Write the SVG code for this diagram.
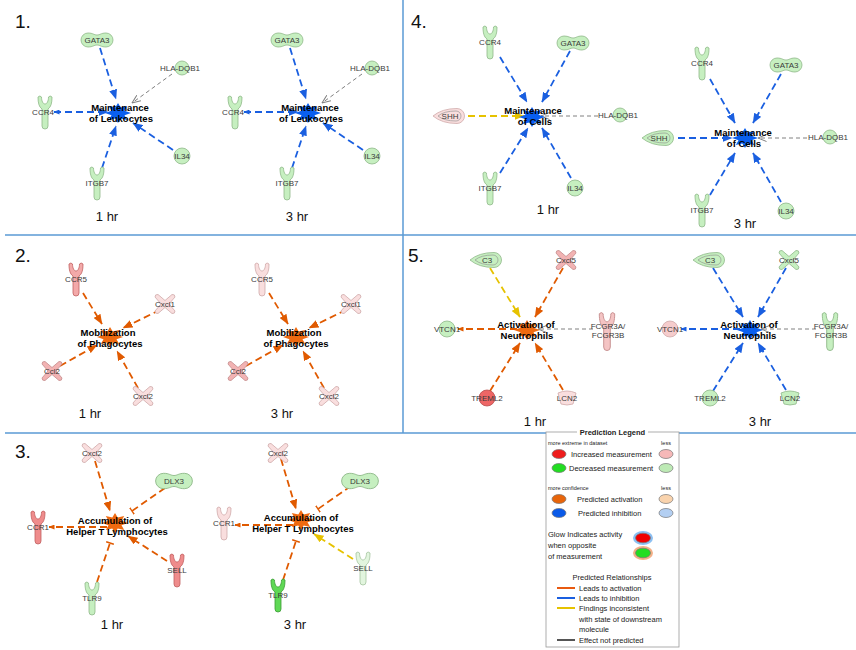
<svg xmlns="http://www.w3.org/2000/svg" xmlns:xlink="http://www.w3.org/1999/xlink" width="856" height="650" viewBox="0 0 856 650">
<style>
text{font-family:"Liberation Sans",Arial,sans-serif}
.lbl{font-size:8px;fill:#3a3a3a;text-anchor:middle}
.fn{font-size:9.5px;font-weight:bold;fill:#000;text-anchor:middle}
.hr{font-size:13px;fill:#111;text-anchor:middle}
.num{font-size:19px;fill:#111}
.sep{stroke:#5b9bd5;stroke-width:1.5;fill:none}
.e{fill:none;stroke-width:1.8;stroke-dasharray:7 4}
.eb{stroke:#1a5fe0}.eo{stroke:#e05a00}.ey{stroke:#e6c200}
.eg{fill:none;stroke:#808080;stroke-width:1;stroke-dasharray:4 3}
.lg{fill:#c6efc0;stroke:#8fb889;stroke-width:0.8}
.g3{fill:#5fd855;stroke:#3a9a33;stroke-width:0.8}
.vg{fill:#e2f5de;stroke:#a5c4a0;stroke-width:0.8}
.pk{fill:#f2b3b3;stroke:#c48b8b;stroke-width:0.8}
.pp{fill:#f9dede;stroke:#cfaaaa;stroke-width:0.8}
.rd{fill:#ef8c8c;stroke:#c06060;stroke-width:0.8}
.rr{fill:#ee6666;stroke:#b84c4c;stroke-width:0.8}
.cb{fill:#0a5ff0}.co{fill:#ef6a10}
.leg{font-size:7.5px;fill:#222}
.legs{font-size:5.5px;fill:#222}
.le{stroke:#777;stroke-width:0.7}
</style>
<defs>
<path id="rec" d="M-3,14 Q-3,17 0,17 Q3,17 3,14 L3,-3 C6,-5 7,-9 7,-15 Q5,-17 3.5,-15 C3.5,-11 2,-8 0,-8 C-2,-8 -3.5,-11 -3.5,-15 Q-5,-17 -7,-15 C-7,-9 -6,-5 -3,-3 Z"/>
<path id="pea" d="M-9,-7 C-4,-7 -3,-5 0,-5 C3,-5 4,-7 9,-7 A7,7 0 0 1 9,7 C4,7 3,5 0,5 C-3,5 -4,7 -9,7 A7,7 0 0 1 -9,-7 Z"/>
<path id="cyt" d="M-10,-7 Q-10,-10 -7,-9.5 L0,-3.5 L7,-9.5 Q10,-10 10,-7 L4,0 L10,7 Q10,10 7,9.5 L0,3.5 L-7,9.5 Q-10,10 -10,7 L-4,0 Z"/>
<path id="lens" d="M-17,0 Q-8,-7.5 7,-7.5 A7.5,7.5 0 0 1 7,7.5 Q-8,7.5 -17,0 Z"/>
<path id="lensin" d="M-12,0 Q-6,-5 6,-5 A5,5 0 0 1 6,5 Q-6,5 -12,0 Z" fill="none" stroke="#8a8a8a" stroke-width="0.6"/>
<path id="cup" d="M-9,-5 Q0,-9 9,-5 L6,6 Q0,8 -6,6 Z"/>
<polygon id="star" points="13,0 6.5,2.3 9.2,7.1 2.7,5.5 0,10 -2.7,5.5 -9.2,7.1 -6.5,2.3 -13,0 -6.5,-2.3 -9.2,-7.1 -2.7,-5.5 0,-10 2.7,-5.5 9.2,-7.1 6.5,-2.3"/>
<marker id="aB" viewBox="0 0 10 8" refX="9.5" refY="4" markerWidth="10" markerHeight="8" markerUnits="userSpaceOnUse" orient="auto"><path d="M0,0L10,4L0,8z" fill="#1a5fe0"/></marker>
<marker id="aO" viewBox="0 0 10 8" refX="9.5" refY="4" markerWidth="10" markerHeight="8" markerUnits="userSpaceOnUse" orient="auto"><path d="M0,0L10,4L0,8z" fill="#e05a00"/></marker>
<marker id="aY" viewBox="0 0 10 8" refX="9.5" refY="4" markerWidth="10" markerHeight="8" markerUnits="userSpaceOnUse" orient="auto"><path d="M0,0L10,4L0,8z" fill="#e6c200"/></marker>
<marker id="aG" viewBox="0 0 9 8" refX="8.5" refY="4" markerWidth="9" markerHeight="8" markerUnits="userSpaceOnUse" orient="auto"><path d="M0,0.5L8.5,4L0,7.5" fill="none" stroke="#808080" stroke-width="1"/></marker>
<marker id="sB" viewBox="0 0 6 5" refX="5.5" refY="2.5" markerWidth="6" markerHeight="5" markerUnits="userSpaceOnUse" orient="auto-start-reverse"><path d="M0,0L6,2.5L0,5z" fill="#1a5fe0"/></marker>
<marker id="sO" viewBox="0 0 6 5" refX="5.5" refY="2.5" markerWidth="6" markerHeight="5" markerUnits="userSpaceOnUse" orient="auto"><path d="M0,0L6,2.5L0,5z" fill="#e05a00"/></marker>
<marker id="tO" viewBox="0 0 4 8" refX="2" refY="4" markerWidth="4" markerHeight="8" markerUnits="userSpaceOnUse" orient="auto"><path d="M2,0V8" stroke="#e05a00" stroke-width="1.4"/></marker>
</defs>
<rect width="856" height="650" fill="#fff"/>

<g id="dividers">
<path class="sep" d="M5,235H856M403,0V433M5,433H546M679,433H856"/>
</g>

<g id="panel-numbers">
<text class="num" x="15" y="28">1.</text>
<text class="num" x="411" y="28">4.</text>
<text class="num" x="15" y="262">2.</text>
<text class="num" x="408" y="262">5.</text>
<text class="num" x="15" y="458">3.</text>
</g>

<g id="time-labels">
<text class="hr" x="107" y="221">1 hr</text>
<text class="hr" x="297" y="221">3 hr</text>
<text class="hr" x="548" y="214">1 hr</text>
<text class="hr" x="745" y="228">3 hr</text>
<text class="hr" x="90" y="418">1 hr</text>
<text class="hr" x="282" y="418">3 hr</text>
<text class="hr" x="535" y="426">1 hr</text>
<text class="hr" x="760" y="426">3 hr</text>
<text class="hr" x="112" y="629">1 hr</text>
<text class="hr" x="295" y="629">3 hr</text>
</g>

<!-- Panel 1, 1 hr -->
<g id="p1a">
<g id="p1a-edges">
<path class="e eb" d="M100,48L116,99" marker-end="url(#aB)"/>
<path class="eg" d="M172,74L132,103" marker-end="url(#aG)"/>
<path class="e eb" d="M54,112L108,112" marker-start="url(#sB)" marker-end="url(#aB)"/>
<path class="e eb" d="M173,150L133,123" marker-end="url(#aB)"/>
<path class="e eb" d="M102,168L116,126" marker-end="url(#aB)"/>
</g>
<g id="p1a-gata3" transform="translate(97,40)"><use href="#pea" class="lg"/><text class="lbl" y="3">GATA3</text></g>
<g id="p1a-hla" transform="translate(182,68)"><circle r="7" class="lg"/><text class="lbl" x="-2" y="3">HLA-DQB1</text></g>
<g id="p1a-ccr4" transform="translate(45,112)"><use href="#rec" class="lg"/><text class="lbl" x="-2" y="3">CCR4</text></g>
<g id="p1a-il34" transform="translate(182,156)"><circle r="8" class="lg"/><text class="lbl" y="3">IL34</text></g>
<g id="p1a-itgb7" transform="translate(97,183)"><use href="#rec" class="lg"/><text class="lbl" y="3">ITGB7</text></g>
<g id="p1a-center" transform="translate(118,113)"><use href="#star" class="cb"/><text class="fn" x="2" y="-2.5">Maintenance</text><text class="fn" x="3" y="8.5">of Leukocytes</text></g>
</g>

<!-- Panel 1, 3 hr -->
<g id="p1b" transform="translate(190,0)">
<g id="p1b-edges">
<path class="e eb" d="M100,48L116,99" marker-end="url(#aB)"/>
<path class="eg" d="M172,74L132,103" marker-end="url(#aG)"/>
<path class="e eb" d="M54,112L108,112" marker-start="url(#sB)" marker-end="url(#aB)"/>
<path class="e eb" d="M173,150L133,123" marker-end="url(#aB)"/>
<path class="e eb" d="M102,168L116,126" marker-end="url(#aB)"/>
</g>
<g id="p1b-gata3" transform="translate(97,40)"><use href="#pea" class="lg"/><text class="lbl" y="3">GATA3</text></g>
<g id="p1b-hla" transform="translate(182,68)"><circle r="7" class="lg"/><text class="lbl" x="-2" y="3">HLA-DQB1</text></g>
<g id="p1b-ccr4" transform="translate(45,112)"><use href="#rec" class="lg"/><text class="lbl" x="-2" y="3">CCR4</text></g>
<g id="p1b-il34" transform="translate(182,156)"><circle r="8" class="lg"/><text class="lbl" y="3">IL34</text></g>
<g id="p1b-itgb7" transform="translate(97,183)"><use href="#rec" class="lg"/><text class="lbl" y="3">ITGB7</text></g>
<g id="p1b-center" transform="translate(118,113)"><use href="#star" class="cb"/><text class="fn" x="2" y="-2.5">Maintenance</text><text class="fn" x="3" y="8.5">of Leukocytes</text></g>
</g>

<!-- Panel 4, 1 hr -->
<g id="p4a">
<g id="p4a-edges">
<path class="e eb" d="M500,57L527,102" marker-end="url(#aB)"/>
<path class="e eb" d="M570,51L542,102" marker-end="url(#aB)"/>
<path class="e ey" d="M468,116L524,116" marker-end="url(#aY)"/>
<path class="eg" d="M598,116L541,116" marker-end="url(#aG)"/>
<path class="e eb" d="M500,173L528,128" marker-end="url(#aB)"/>
<path class="e eb" d="M571,178L542,128" marker-end="url(#aB)"/>
</g>
<g id="p4a-ccr4" transform="translate(490,42)"><use href="#rec" class="lg"/><text class="lbl" y="3">CCR4</text></g>
<g id="p4a-gata3" transform="translate(573,43)"><use href="#pea" class="lg"/><text class="lbl" y="3">GATA3</text></g>
<g id="p4a-shh" transform="translate(450,116)"><use href="#lens" class="pp"/><use href="#lensin"/><text class="lbl" y="3">SHH</text></g>
<g id="p4a-hla" transform="translate(620,115)"><circle r="7" class="lg"/><text class="lbl" x="-2" y="3">HLA-DQB1</text></g>
<g id="p4a-itgb7" transform="translate(490,188)"><use href="#rec" class="lg"/><text class="lbl" y="3">ITGB7</text></g>
<g id="p4a-il34" transform="translate(575,188)"><circle r="8" class="lg"/><text class="lbl" y="3">IL34</text></g>
<g id="p4a-center" transform="translate(532,117)"><use href="#star" class="cb"/><text class="fn" x="1" y="-3.5">Maintenance</text><text class="fn" x="3" y="8">of Cells</text></g>
</g>

<!-- Panel 4, 3 hr -->
<g id="p4b">
<g id="p4b-edges">
<path class="e eb" d="M710,79L735,123" marker-end="url(#aB)"/>
<path class="e eb" d="M781,74L753,123" marker-end="url(#aB)"/>
<path class="e eb" d="M678,138L732,138" marker-end="url(#aB)"/>
<path class="eg" d="M807,138L758,138" marker-end="url(#aG)"/>
<path class="e eb" d="M710,195L735,153" marker-end="url(#aB)"/>
<path class="e eb" d="M781,202L753,153" marker-end="url(#aB)"/>
</g>
<g id="p4b-ccr4" transform="translate(702,63)"><use href="#rec" class="lg"/><text class="lbl" y="3">CCR4</text></g>
<g id="p4b-gata3" transform="translate(786,65)"><use href="#pea" class="lg"/><text class="lbl" y="3">GATA3</text></g>
<g id="p4b-shh" transform="translate(659,138)"><use href="#lens" class="lg"/><use href="#lensin"/><text class="lbl" y="3">SHH</text></g>
<g id="p4b-hla" transform="translate(830,137)"><circle r="7" class="lg"/><text class="lbl" x="-2" y="3">HLA-DQB1</text></g>
<g id="p4b-itgb7" transform="translate(702,210)"><use href="#rec" class="lg"/><text class="lbl" y="3">ITGB7</text></g>
<g id="p4b-il34" transform="translate(786,211)"><circle r="8" class="lg"/><text class="lbl" y="3">IL34</text></g>
<g id="p4b-center" transform="translate(745,138)"><use href="#star" class="cb"/><text class="fn" x="-2" y="-2">Maintenance</text><text class="fn" x="-1" y="9">of Cells</text></g>
</g>

<!-- Panel 2, 1 hr -->
<g id="p2a">
<g id="p2a-edges">
<path class="e eo" d="M83,293L102,324" marker-end="url(#aO)"/>
<path class="e eo" d="M160,310L123,328" marker-end="url(#aO)"/>
<path class="e eo" d="M60,366L97,345" marker-end="url(#aO)"/>
<path class="e eo" d="M138,388L117,351" marker-end="url(#aO)"/>
</g>
<g id="p2a-ccr5" transform="translate(76,279)"><use href="#rec" class="rd" style="fill:#f3a9a9"/><text class="lbl" y="3">CCR5</text></g>
<g id="p2a-cxcl1" transform="translate(165,304)"><use href="#cyt" class="pp"/><text class="lbl" y="3">Cxcl1</text></g>
<g id="p2a-ccl2" transform="translate(52,371)"><use href="#cyt" class="pk"/><text class="lbl" y="3">Ccl2</text></g>
<g id="p2a-cxcl2" transform="translate(143,396)"><use href="#cyt" class="pp"/><text class="lbl" y="3">Cxcl2</text></g>
<g id="p2a-center" transform="translate(110,337)"><use href="#star" class="co"/><text class="fn" x="-2" y="-1.5">Mobilization</text><text class="fn" y="10">of Phagocytes</text></g>
</g>

<!-- Panel 2, 3 hr -->
<g id="p2b" transform="translate(186,0)">
<g id="p2b-edges">
<path class="e eo" d="M83,293L102,324" marker-end="url(#aO)"/>
<path class="e eo" d="M160,310L123,328" marker-end="url(#aO)"/>
<path class="e eo" d="M60,366L97,345" marker-end="url(#aO)"/>
<path class="e eo" d="M138,388L117,351" marker-end="url(#aO)"/>
</g>
<g id="p2b-ccr5" transform="translate(76,279)"><use href="#rec" class="pp"/><text class="lbl" y="3">CCR5</text></g>
<g id="p2b-cxcl1" transform="translate(165,304)"><use href="#cyt" class="pp"/><text class="lbl" y="3">Cxcl1</text></g>
<g id="p2b-ccl2" transform="translate(52,371)"><use href="#cyt" class="pk"/><text class="lbl" y="3">Ccl2</text></g>
<g id="p2b-cxcl2" transform="translate(143,396)"><use href="#cyt" class="pp"/><text class="lbl" y="3">Cxcl2</text></g>
<g id="p2b-center" transform="translate(110,337)"><use href="#star" class="co"/><text class="fn" x="-2" y="-1.5">Mobilization</text><text class="fn" y="10">of Phagocytes</text></g>
</g>

<!-- Panel 5, 1 hr -->
<g id="p5a">
<g id="p5a-edges">
<path class="e ey" d="M490,268L520,317" marker-end="url(#aY)"/>
<path class="e eo" d="M563,268L535,317" marker-end="url(#aO)"/>
<path class="e eo" d="M517,329L458,329" marker-end="url(#sO)"/>
<path class="eg" d="M593,329L538,329" marker-end="url(#aG)"/>
<path class="e eo" d="M490,391L520,343" marker-end="url(#aO)"/>
<path class="e eo" d="M563,390L535,343" marker-end="url(#aO)"/>
</g>
<g id="p5a-c3" transform="translate(487,260)"><use href="#lens" class="lg"/><use href="#lensin"/><text class="lbl" y="3">C3</text></g>
<g id="p5a-cxcl5" transform="translate(566,260)"><use href="#cyt" class="pk"/><text class="lbl" y="3">Cxcl5</text></g>
<g id="p5a-vtcn1" transform="translate(447,329)"><circle r="8" class="lg"/><text class="lbl" y="3">VTCN1</text></g>
<g id="p5a-fcgr" transform="translate(607,331)"><use href="#rec" class="pk" transform="scale(1.1,1.15)" style="fill:#f4c4c4"/><text class="lbl" x="1" y="-2">FCGR3A/</text><text class="lbl" x="1" y="7">FCGR3B</text></g>
<g id="p5a-treml2" transform="translate(487,398)"><circle r="8" class="rr"/><text class="lbl" y="3">TREML2</text></g>
<g id="p5a-lcn2" transform="translate(567,398)"><use href="#cup" class="pp"/><text class="lbl" y="3">LCN2</text></g>
<g id="p5a-center" transform="translate(527,330)"><use href="#star" class="co"/><text class="fn" x="-1" y="-2.5">Activation of</text><text class="fn" y="8.5">Neutrophils</text></g>
</g>

<!-- Panel 5, 3 hr -->
<g id="p5b" transform="translate(223,0)">
<g id="p5b-edges">
<path class="e eb" d="M490,268L520,317" marker-end="url(#aB)"/>
<path class="e eb" d="M563,268L535,317" marker-end="url(#aB)"/>
<path class="e eb" d="M517,329L458,329" marker-end="url(#sB)"/>
<path class="eg" d="M593,329L538,329" marker-end="url(#aG)"/>
<path class="e eb" d="M490,391L520,343" marker-end="url(#aB)"/>
<path class="e eb" d="M563,390L535,343" marker-end="url(#aB)"/>
</g>
<g id="p5b-c3" transform="translate(487,260)"><use href="#lens" class="lg"/><use href="#lensin"/><text class="lbl" y="3">C3</text></g>
<g id="p5b-cxcl5" transform="translate(566,260)"><use href="#cyt" class="lg"/><text class="lbl" y="3">Cxcl5</text></g>
<g id="p5b-vtcn1" transform="translate(447,329)"><circle r="8" class="pp" style="fill:#f5cccc"/><text class="lbl" y="3">VTCN1</text></g>
<g id="p5b-fcgr" transform="translate(607,331)"><use href="#rec" class="lg" transform="scale(1.1,1.15)"/><text class="lbl" x="1" y="-2">FCGR3A/</text><text class="lbl" x="1" y="7">FCGR3B</text></g>
<g id="p5b-treml2" transform="translate(487,398)"><circle r="8" class="lg"/><text class="lbl" y="3">TREML2</text></g>
<g id="p5b-lcn2" transform="translate(567,398)"><use href="#cup" class="lg"/><text class="lbl" y="3">LCN2</text></g>
<g id="p5b-center" transform="translate(527,330)"><use href="#star" class="cb"/><text class="fn" x="-1" y="-2.5">Activation of</text><text class="fn" y="8.5">Neutrophils</text></g>
</g>

<!-- Panel 3, 1 hr -->
<g id="p3a">
<g id="p3a-edges">
<path class="e eo" d="M95,461L110,511" marker-end="url(#aO)"/>
<path class="e eo" d="M165,488L132,511" marker-end="url(#tO)"/>
<path class="e eo" d="M107,527L49,527" marker-end="url(#sO)"/>
<path class="e eo" d="M167,561L128,536" marker-end="url(#aO)"/>
<path class="e eo" d="M97,582L110,543" marker-end="url(#tO)"/>
</g>
<g id="p3a-cxcl2" transform="translate(92,453)"><use href="#cyt" class="pp"/><text class="lbl" y="3">Cxcl2</text></g>
<g id="p3a-dlx3" transform="translate(174,481)"><use href="#pea" class="lg" transform="scale(1.15,1.1)"/><text class="lbl" y="3">DLX3</text></g>
<g id="p3a-ccr1" transform="translate(38,527)"><use href="#rec" class="rd"/><text class="lbl" y="3">CCR1</text></g>
<g id="p3a-sell" transform="translate(177,570)"><use href="#rec" class="rd"/><text class="lbl" y="3">SELL</text></g>
<g id="p3a-tlr9" transform="translate(92,598)"><use href="#rec" class="lg"/><text class="lbl" y="3">TLR9</text></g>
<g id="p3a-center" transform="translate(115,523)"><use href="#star" class="co"/><text class="fn" y="0.5">Accumulation of</text><text class="fn" x="2" y="12">Helper T Lymphocytes</text></g>
</g>

<!-- Panel 3, 3 hr -->
<g id="p3b" transform="translate(186,-2)">
<g id="p3b-edges">
<path class="e eo" d="M95,461L110,511" marker-end="url(#aO)"/>
<path class="e eo" d="M165,488L132,511" marker-end="url(#tO)"/>
<path class="e eo" d="M107,527L49,527" marker-end="url(#sO)"/>
<path class="e ey" d="M167,561L128,536" marker-end="url(#aY)"/>
<path class="e eo" d="M97,582L110,543" marker-end="url(#tO)"/>
</g>
<g id="p3b-cxcl2" transform="translate(92,455)"><use href="#cyt" class="pp"/><text class="lbl" y="3">Cxcl2</text></g>
<g id="p3b-dlx3" transform="translate(174,483)"><use href="#pea" class="lg" transform="scale(1.15,1.1)"/><text class="lbl" y="3">DLX3</text></g>
<g id="p3b-ccr1" transform="translate(38,525)"><use href="#rec" class="pp"/><text class="lbl" y="3">CCR1</text></g>
<g id="p3b-sell" transform="translate(177,570)"><use href="#rec" class="vg"/><text class="lbl" y="3">SELL</text></g>
<g id="p3b-tlr9" transform="translate(92,597)"><use href="#rec" class="g3"/><text class="lbl" y="3">TLR9</text></g>
<g id="p3b-center" transform="translate(115,522)"><use href="#star" class="co"/><text class="fn" y="0.5">Accumulation of</text><text class="fn" x="2" y="12">Helper T Lymphocytes</text></g>
</g>

<!-- Legend -->
<g id="legend">
<rect x="546" y="432" width="133" height="215" fill="#fff" stroke="#999" stroke-width="0.8"/>
<rect x="577" y="428" width="71" height="8" fill="#fff"/>
<text x="612.5" y="435" text-anchor="middle" style="font-size:7.5px;font-weight:bold;fill:#222">Prediction Legend</text>
<text class="legs" x="548" y="445">more extreme in dataset</text>
<text class="legs" x="666" y="445" text-anchor="middle">less</text>
<ellipse cx="559" cy="454" rx="7" ry="4.5" fill="#ee1c1c" class="le"/>
<text class="leg" x="571" y="457">Increased measurement</text>
<ellipse cx="666" cy="454" rx="7" ry="4.5" fill="#f6b8b8" class="le"/>
<ellipse cx="559" cy="468" rx="7" ry="4.5" fill="#22dd22" class="le"/>
<text class="leg" x="569" y="471">Decreased measurement</text>
<ellipse cx="666" cy="468" rx="7" ry="4.5" fill="#bdeab5" class="le"/>
<text class="legs" x="548" y="490">more confidence</text>
<text class="legs" x="666" y="490" text-anchor="middle">less</text>
<ellipse cx="559" cy="499" rx="7" ry="4.5" fill="#e8650a" class="le"/>
<text class="leg" x="577" y="502">Predicted activation</text>
<ellipse cx="666" cy="499" rx="7" ry="4.5" fill="#f9d3ad" class="le"/>
<ellipse cx="559" cy="513" rx="7" ry="4.5" fill="#0a5ae8" class="le"/>
<text class="leg" x="578" y="516">Predicted inhibition</text>
<ellipse cx="666" cy="513" rx="7" ry="4.5" fill="#b3cff2" class="le"/>
<text class="leg" x="548" y="537">Glow Indicates activity</text>
<text class="leg" x="548" y="548">when opposite</text>
<text class="leg" x="548" y="559">of measurement</text>
<ellipse cx="643" cy="538" rx="10" ry="7" fill="#8cc0f2"/>
<ellipse cx="643" cy="538" rx="7.5" ry="4.8" fill="#f00000" class="le"/>
<ellipse cx="643" cy="553" rx="10" ry="7" fill="#f3b088"/>
<ellipse cx="643" cy="553" rx="7.5" ry="4.8" fill="#22dd22" class="le"/>
<text class="leg" x="612" y="580" text-anchor="middle">Predicted Relationships</text>
<path d="M557,588H575" stroke="#e85a10" stroke-width="2"/>
<text class="leg" x="579" y="591">Leads to activation</text>
<path d="M557,598H575" stroke="#1a5fe0" stroke-width="2"/>
<text class="leg" x="579" y="601">Leads to inhibition</text>
<path d="M557,608H575" stroke="#e6c200" stroke-width="2"/>
<text class="leg" x="579" y="611">Findings inconsistent</text>
<text class="leg" x="579" y="622">with state of downstream</text>
<text class="leg" x="579" y="632">molecule</text>
<path d="M557,640H575" stroke="#555" stroke-width="2"/>
<text class="leg" x="579" y="643">Effect not predicted</text>
</g>
</svg>
